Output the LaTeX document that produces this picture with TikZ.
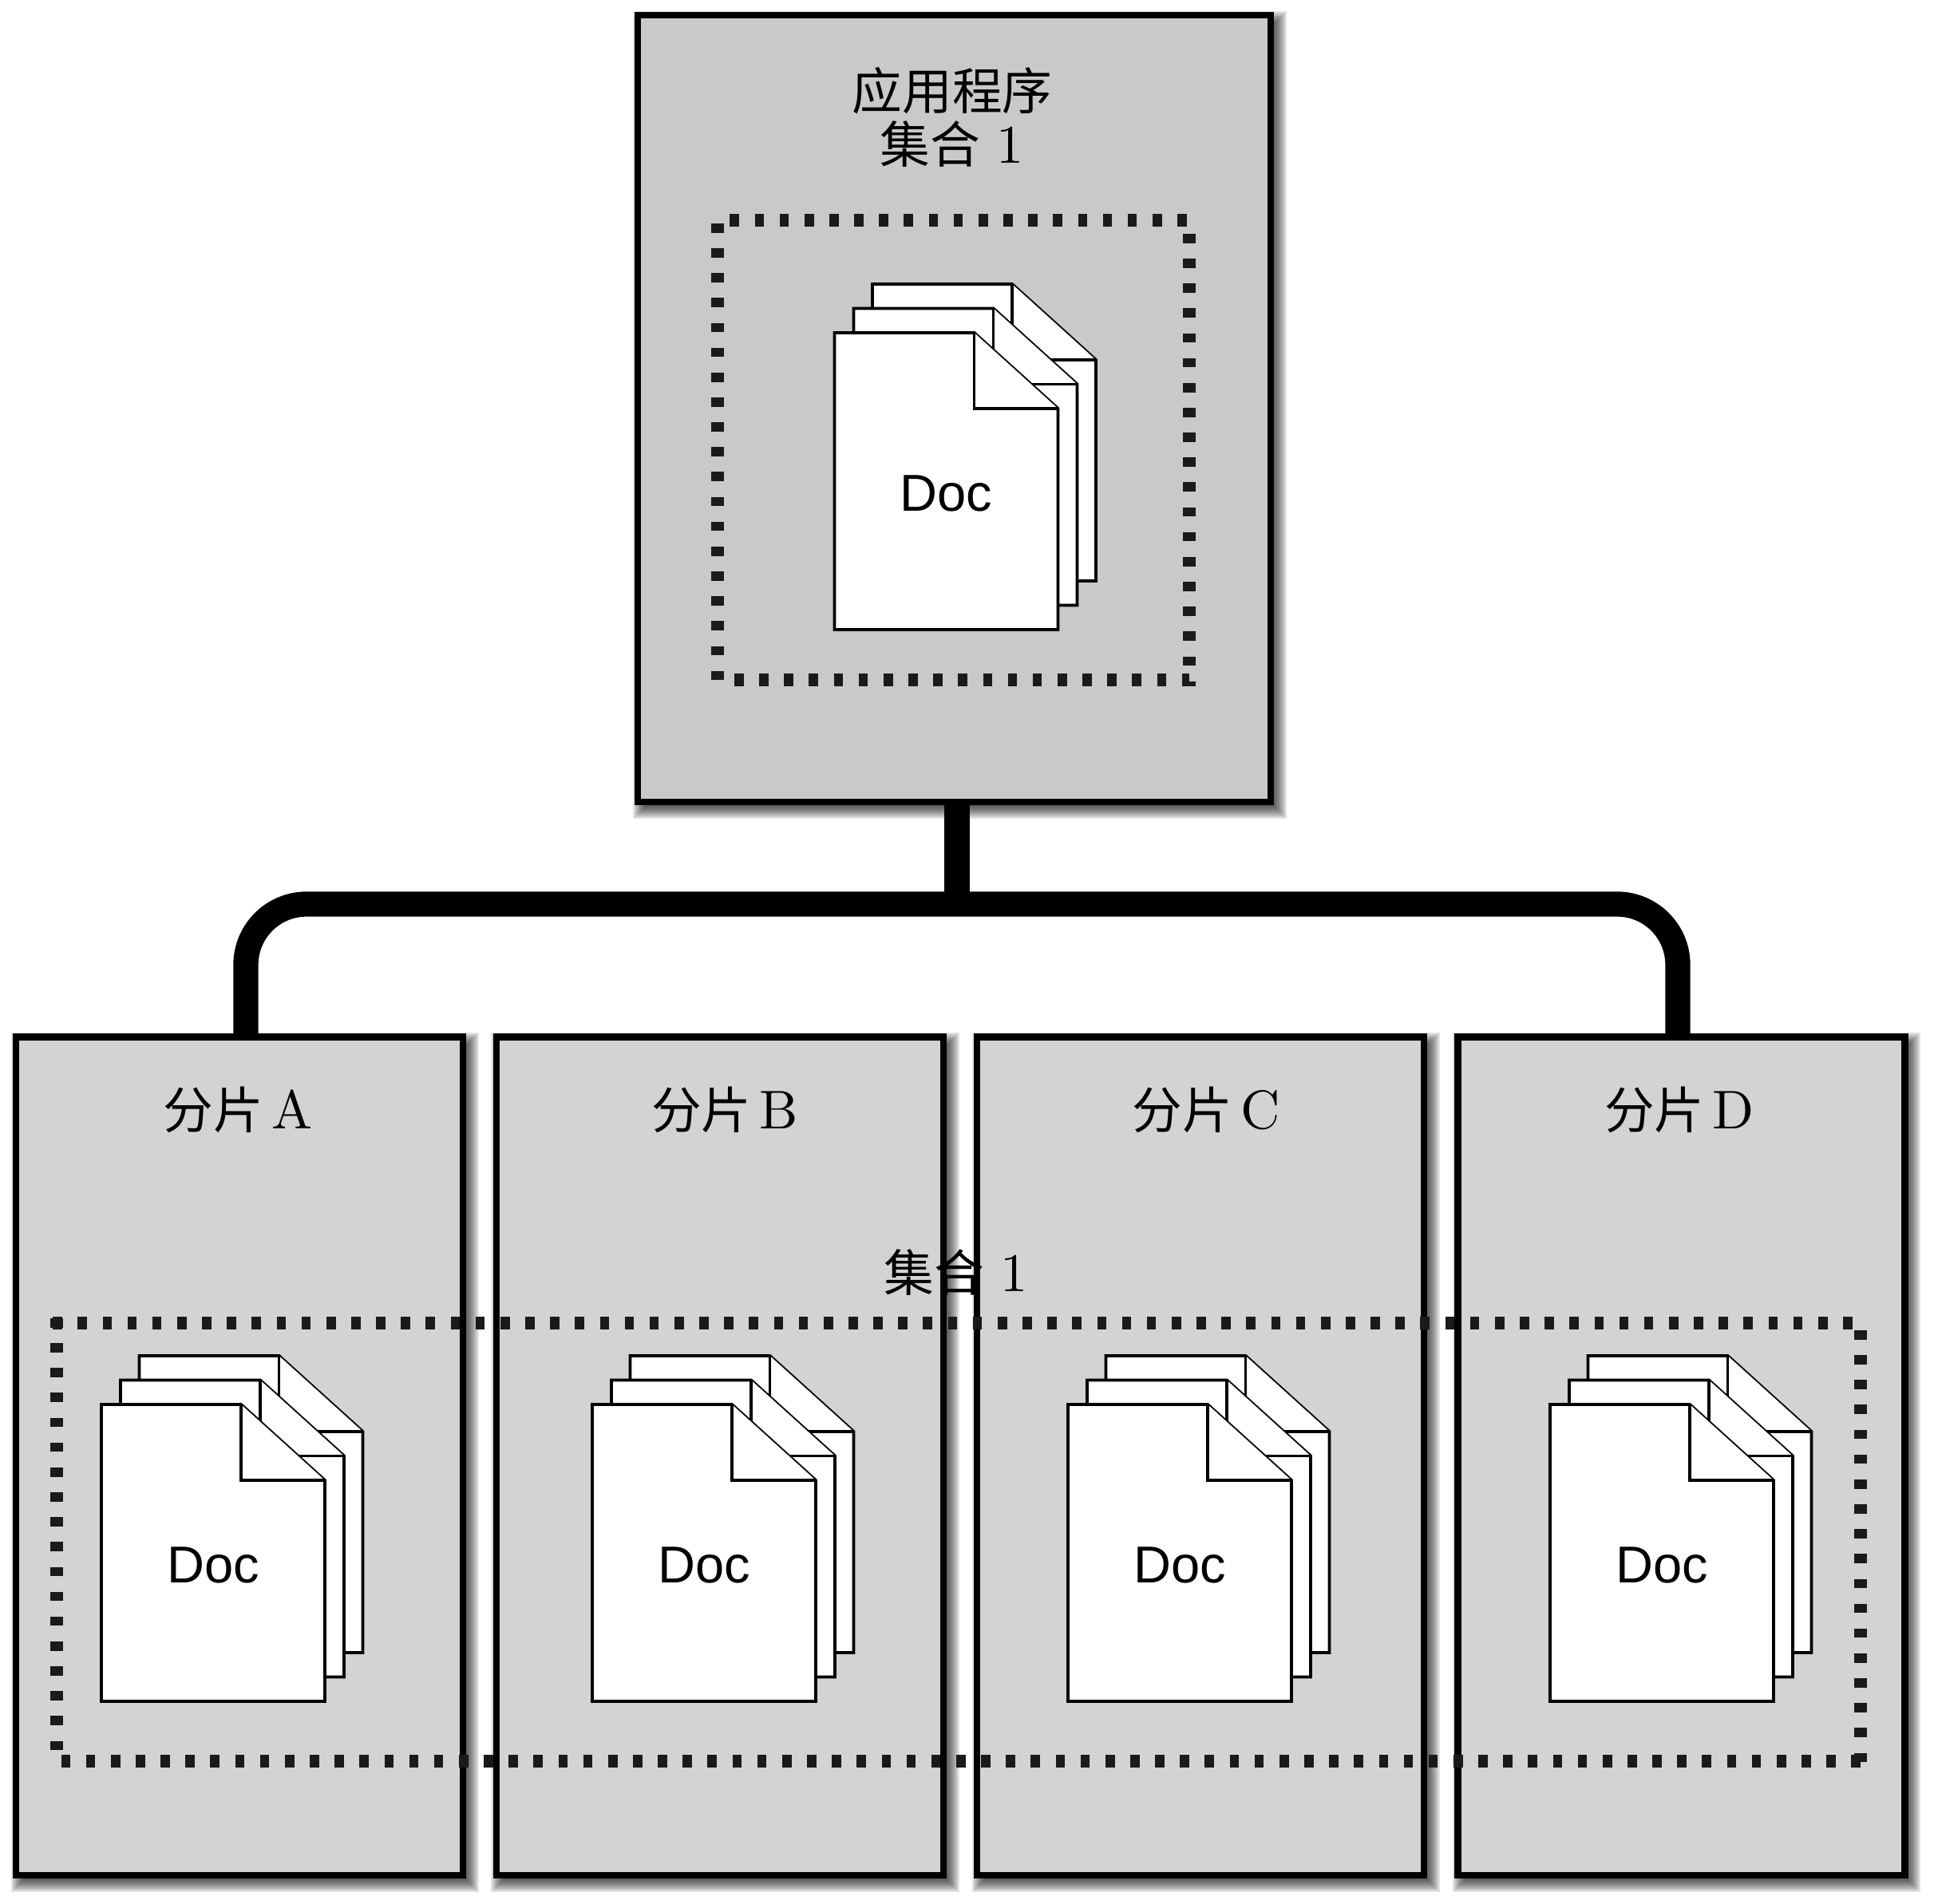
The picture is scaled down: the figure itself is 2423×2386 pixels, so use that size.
\documentclass[tikz,border=0pt]{standalone}
\usepackage{fontspec}
\newfontfamily\cjk{Noto Sans CJK SC}
\newfontfamily\docfont{Liberation Sans}
\newcommand{\latn}[1]{\hspace{1.6pt}{\fontsize{10.9}{10.5}\selectfont #1}}
\definecolor{topfill}{HTML}{C9C9C9}
\definecolor{shardfill}{HTML}{D3D3D3}
\definecolor{dotcol}{HTML}{1A1A1A}
\tikzset{
  boxbase/.style={draw=black,line width=2.55pt,inner sep=0pt,outer sep=0pt,rectangle},
  topbox/.style={boxbase,fill=topfill,minimum width=237.9pt,minimum height=295.8pt},
  shardbox/.style={boxbase,fill=shardfill,minimum width=168pt,minimum height=315.15pt},
  softshadow/.style={fill=black,fill opacity=0.11,draw=none},
  dotbar/.style={draw=dotcol,line width=4.8pt,dash pattern=on 3.5pt off 5.845pt},
  conn/.style={draw=black,line width=9.4pt},
  title/.style={inner sep=0pt,outer sep=0pt,align=center,scale=1.88,font=\fontsize{10}{10.8}\selectfont},
  doclabel/.style={inner sep=0pt,outer sep=0pt,font=\docfont\fontsize{19.5}{21}\selectfont},
  pagesheet/.style={draw=black,fill=white,line width=1.15pt,miter limit=10},
  docstack/.pic={
    \foreach \dx/\dy in {47.5/-61,24/-30.5,0/0}{
      \path[pagesheet] (\dx,\dy) -- ++(175,0) -- ++(105,95) -- ++(0,277) -- ++(-280,0) -- cycle;
      \path[pagesheet] (\dx+175,\dy) -- ++(0,95) -- ++(105,0);
    }
    \node[doclabel] (-label) at (140,201) {Doc};
  }
}
\newcommand{\softbox}[4]{% x1 y1 x2 y2 of the outer edge
  \foreach \e in {-9,-7,...,9}{
    \path[softshadow] (#1+7-\e,#2+8-\e) rectangle (#3+7+\e,#4+8+\e);
  }
}
\begin{document}
\begin{tikzpicture}[x=0.3pt,y=-0.3pt]
\useasboundingbox (0,0) rectangle (2423,2386);
% shadows
\softbox{795}{15}{1596}{1009}
\softbox{16}{1295}{584}{2354}
\softbox{617}{1295}{1186}{2354}
\softbox{1220}{1295}{1788}{2354}
\softbox{1822}{1295}{2390}{2354}
% boxes
\node[topbox] (app) at (1195.5,512) {};
\node[shardbox] (shardA) at (300,1824.75) {};
\node[shardbox] (shardB) at (901.75,1824.75) {};
\node[shardbox] (shardC) at (1503.75,1824.75) {};
\node[shardbox] (shardD) at (2106.25,1824.75) {};
% connector
\coordinate (junction) at (1199,1133);
\coordinate (leftturn) at (308,1133);
\coordinate (rightturn) at (2102,1133);
\draw[conn] (app.south -| junction) -- (junction);
\draw[conn,rounded corners=22.8pt] (leftturn |- shardA.north) -- (leftturn) -- (rightturn) -- (rightturn |- shardD.north);
% titles
\node[title] (apptitle) at (1193,147) {{\cjk 应用程序}\\{\cjk 集合}\hspace{1.7pt}\latn{1}};
\node[title] (labelA) at (298,1391) {{\cjk 分片}\latn{A}};
\node[title] (labelB) at (908,1391) {{\cjk 分片}\latn{B}};
\node[title] (labelC) at (1511,1391) {{\cjk 分片}\latn{C}};
\node[title] (labelD) at (2104,1391) {{\cjk 分片}\latn{D}};
\node[title] (coll) at (1198,1595) {{\cjk 集合}\hspace{1.7pt}\latn{1}};
% dotted frame, application
\coordinate (atl) at (914.4,276);
\coordinate (atr) at (1490,276);
\draw[dotbar] (atl) -- (atr);
\draw[dotbar] (899,280) -- (899,860);
\draw[dotbar] (1490,293) -- (1490,860);
\draw[dotbar] (920,852) -- (1490,852);
% dotted frame, shards
\draw[dotbar] (66.2,1658) -- (2331,1658);
\draw[dotbar] (71,1652) -- (71,2207);
\draw[dotbar] (2331,1667) -- (2331,2215);
\draw[dotbar] (2331,2207) -- (71,2207);
% documents
\pic (docApp) at (1045.5,417) {docstack};
\pic (docA) at (127,1760) {docstack};
\pic (docB) at (742,1760) {docstack};
\pic (docC) at (1338,1760) {docstack};
\pic (docD) at (1942,1760) {docstack};
\end{tikzpicture}
\end{document}
